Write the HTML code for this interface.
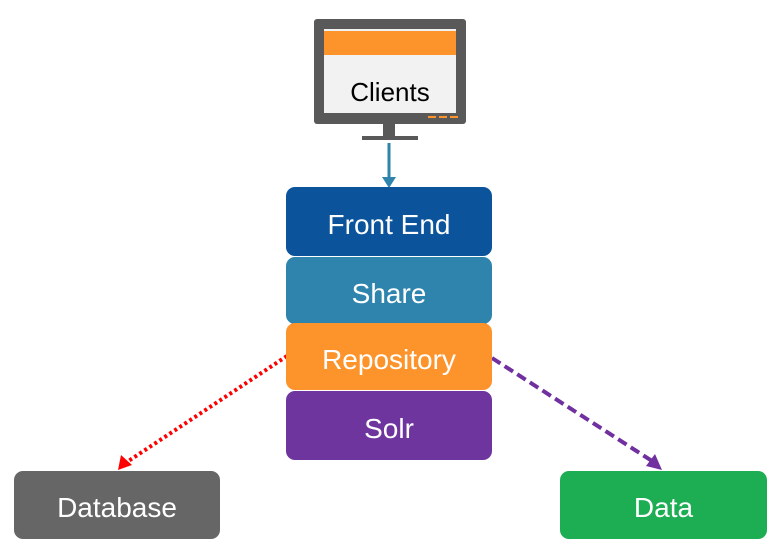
<!DOCTYPE html>
<html><head><style>
html,body{margin:0;padding:0;background:#fff;}
body{width:780px;height:553px;position:relative;overflow:hidden;font-family:"Liberation Sans",sans-serif;}
.b{position:absolute;border-radius:9px;color:#fff;font-size:28px;display:flex;align-items:center;justify-content:center;box-sizing:border-box;padding-top:6px;}
</style></head><body>
<svg width="780" height="553" style="position:absolute;left:0;top:0">
  <rect x="314" y="19" width="152" height="105" rx="3" fill="#595959"/>
  <rect x="324" y="29" width="132" height="84" fill="#f2f2f2"/>
  <rect x="324" y="31" width="132" height="24" fill="#fd942b"/>
  <line x1="428" y1="117" x2="460" y2="117" stroke="#fd942b" stroke-width="2" stroke-dasharray="8,3"/>
  <rect x="383" y="124" width="12" height="13" fill="#595959"/>
  <rect x="362" y="136" width="56" height="4" fill="#595959"/>
  <text x="390" y="101" text-anchor="middle" font-family="Liberation Sans, sans-serif" font-size="26" fill="#000">Clients</text>
  <line x1="389" y1="143" x2="389" y2="178" stroke="#2e84ad" stroke-width="3"/>
  <polygon points="382,177 396,177 389,188" fill="#2e84ad"/>
  <line x1="287" y1="356" x2="127" y2="462" stroke="#ff0000" stroke-width="4" stroke-dasharray="3,3"/>
  <polygon points="118,470 121,455 132,465" fill="#ff0000"/>
  <line x1="492" y1="358" x2="652" y2="461" stroke="#7030a0" stroke-width="4" stroke-dasharray="10,5"/>
  <polygon points="662,470 646,466 655,454" fill="#7030a0"/>
</svg>
<div class="b" style="left:286px;top:187px;width:206px;height:69px;background:#0b539b;">Front End</div>
<div class="b" style="left:286px;top:257px;width:206px;height:67px;background:#2e84ad;">Share</div>
<div class="b" style="left:286px;top:323px;width:206px;height:67px;background:#fd942b;">Repository</div>
<div class="b" style="left:286px;top:391px;width:206px;height:69px;background:#6f359e;">Solr</div>
<div class="b" style="left:14px;top:471px;width:206px;height:68px;background:#666666;">Database</div>
<div class="b" style="left:560px;top:471px;width:207px;height:68px;background:#1dad53;">Data</div>
</body></html>
